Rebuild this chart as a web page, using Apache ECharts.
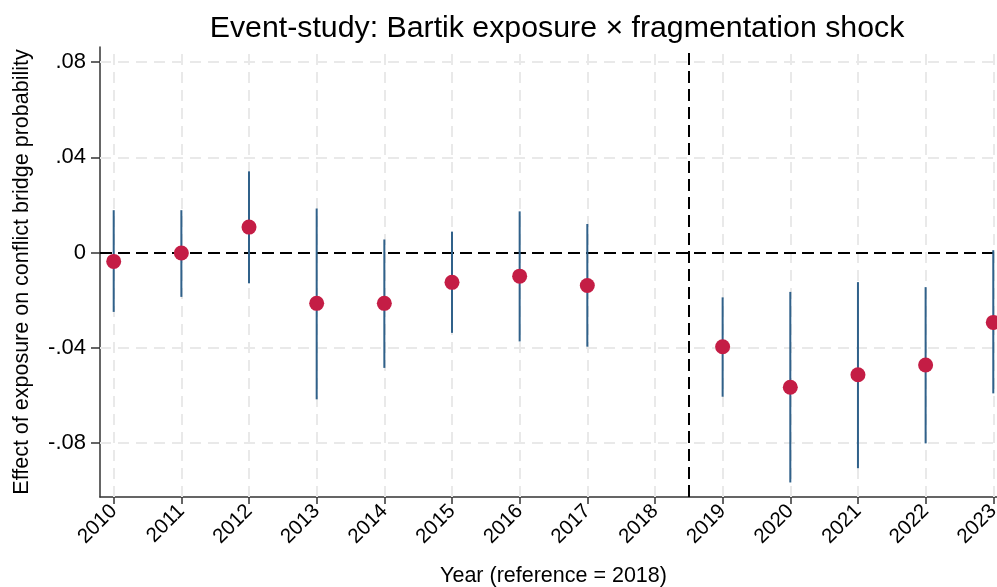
<!DOCTYPE html>
<html>
<head>
<meta charset="utf-8">
<script src="https://cdn.jsdelivr.net/npm/echarts@6/dist/echarts.min.js"></script>
<style>
html, body { margin: 0; padding: 0; background: #fff; }
#chart { width: 997px; height: 587px; }
</style>
</head>
<body>
<div id="chart"></div>
<script>
// event-study estimates (2018 = reference, omitted)
var years  = [2010, 2011, 2012, 2013, 2014, 2015, 2016, 2017, 2018, 2019, 2020, 2021, 2022, 2023];
var coef   = [-0.0037, -0.0002, 0.0107, -0.0213, -0.0213, -0.0125, -0.0099, -0.0138, null, -0.0395, -0.0565, -0.0513, -0.0472, -0.0293];
var ciLow  = [-0.0249, -0.0186, -0.0129, -0.0616, -0.0484, -0.0337, -0.0373, -0.0395, null, -0.0605, -0.0965, -0.0905, -0.0801, -0.0591];
var ciHigh = [0.0178, 0.0178, 0.0341, 0.0185, 0.0055, 0.0088, 0.0173, 0.0120, null, -0.0188, -0.0165, -0.0124, -0.0145, 0.0010];
var yTicks = [0.08, 0.04, 0, -0.04, -0.08];
var refLine = 2018.5;

var FONT = "'Liberation Sans', Arial, sans-serif";

function fmtY(v) {
    if (Math.abs(v) < 1e-9) return '0';
    var s = Math.abs(v).toFixed(2).replace(/^0/, '');
    return (v < 0 ? '-' : '') + s;
}

var pts = [], bars = [];
years.forEach(function (y, i) {
    if (coef[i] === null) return;
    pts.push([y, coef[i]]);
    bars.push([y, ciLow[i], ciHigh[i]]);
});

var gridLines = [];
years.forEach(function (y) { gridLines.push({ xAxis: y }); });
yTicks.forEach(function (v) { if (v !== 0) gridLines.push({ yAxis: v }); });

var chart = echarts.init(document.getElementById('chart'));
chart.setOption({
    animation: false,
    backgroundColor: '#fff',
    textStyle: { fontFamily: FONT },
    title: {
        text: 'Event-study: Bartik exposure \u00d7 fragmentation shock',
        left: 552,
        textAlign: 'center',
        top: 9,
        textStyle: { fontSize: 30.3, fontWeight: 'normal', color: '#000', fontFamily: FONT }
    },
    grid: {
        left: 100,
        right: 0,
        top: 47,
        bottom: 90,
        containLabel: false,
        outerBoundsMode: 'none'
    },
    xAxis: {
        type: 'value',
        min: 2009.7975,
        max: 2023.055,
        name: 'Year (reference = 2018)',
        nameLocation: 'middle',
        nameGap: 68,
        nameTextStyle: { fontSize: 21.5, color: '#000', fontFamily: FONT, padding: [0, 0, 0, 10] },
        axisLine: { show: true, onZero: false, lineStyle: { color: '#333', width: 1.5 } },
        axisTick: { show: true, customValues: years, length: 7, lineStyle: { color: '#333', width: 1.5 } },
        axisLabel: {
            customValues: years,
            rotate: 45,
            fontSize: 20.5,
            color: '#000',
            margin: 11,
            formatter: function (v) { return String(Math.round(v)); }
        },
        splitLine: { show: false }
    },
    yAxis: {
        type: 'value',
        min: -0.1026,
        max: 0.0863,
        name: 'Effect of exposure on conflict bridge probability',
        nameLocation: 'middle',
        nameRotate: 90,
        nameGap: 67,
        nameTextStyle: { fontSize: 21.5, color: '#000', fontFamily: FONT },
        axisLine: { show: true, onZero: false, lineStyle: { color: '#333', width: 1.5 } },
        axisTick: { show: true, customValues: yTicks, length: 9, lineStyle: { color: '#333', width: 1.5 } },
        axisLabel: {
            customValues: yTicks,
            fontSize: 22,
            color: '#000',
            margin: 14,
            formatter: fmtY
        },
        splitLine: { show: false }
    },
    series: [
        {
            // background grid
            type: 'line',
            data: [],
            silent: true,
            z: 1,
            markLine: {
                z: 1,
                silent: true,
                symbol: 'none',
                label: { show: false },
                animation: false,
                lineStyle: { color: '#e9e9e9', type: [11, 7], width: 2 },
                data: gridLines
            }
        },
        {
            // reference lines
            type: 'line',
            data: [],
            silent: true,
            z: 2,
            markLine: {
                z: 2,
                silent: true,
                symbol: 'none',
                label: { show: false },
                animation: false,
                lineStyle: { color: '#000', type: [12, 6], width: 2 },
                data: [{ yAxis: 0 }, { xAxis: refLine }]
            }
        },
        {
            // confidence intervals
            type: 'custom',
            z: 5,
            data: bars,
            encode: { x: 0, y: [1, 2] },
            renderItem: function (params, api) {
                var a = api.coord([api.value(0), api.value(1)]);
                var b = api.coord([api.value(0), api.value(2)]);
                return {
                    type: 'line',
                    shape: { x1: a[0], y1: a[1], x2: b[0], y2: b[1] },
                    style: { stroke: '#30618a', lineWidth: 2 }
                };
            }
        },
        {
            type: 'scatter',
            z: 10,
            data: pts,
            symbol: 'circle',
            symbolSize: 15,
            clip: false,
            itemStyle: { color: '#c41d45', opacity: 1 }
        }
    ]
});
</script>
</body>
</html>
